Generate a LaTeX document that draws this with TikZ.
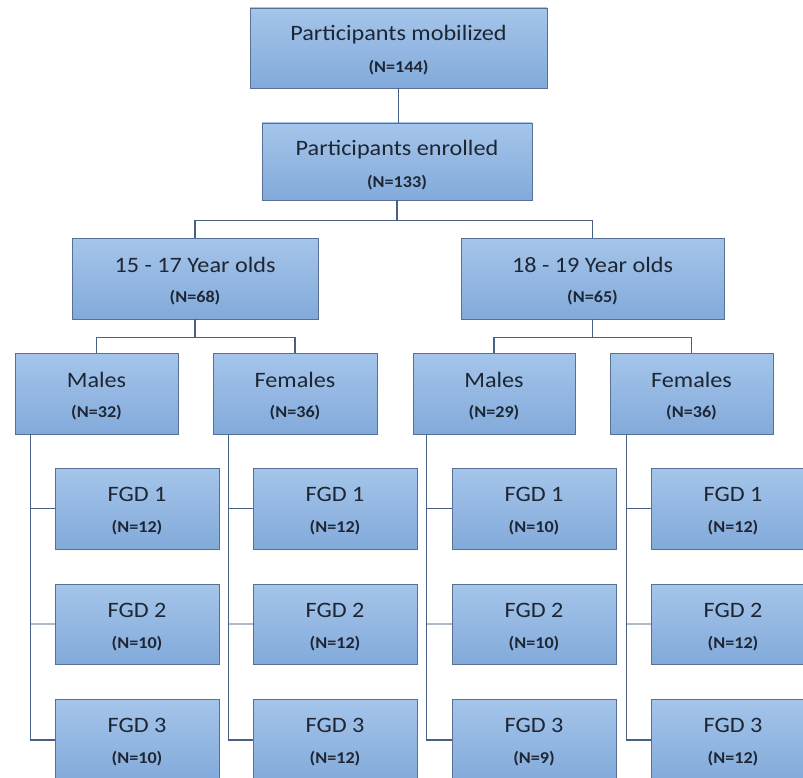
\documentclass[tikz,border=0pt]{standalone}
\usepackage{fontspec}
\setmainfont{Carlito}[FakeStretch=1.1]
\begin{document}
\definecolor{bxtop}{RGB}{165,197,234}
\definecolor{bxbot}{RGB}{130,170,218}
\definecolor{bxline}{RGB}{88,112,148}
\definecolor{cline}{RGB}{72,96,132}
\definecolor{cgrey}{RGB}{175,185,195}
\definecolor{txt}{RGB}{30,38,52}
\tikzset{
  bx/.style={draw=bxline, line width=0.9pt, top color=bxtop, bottom color=bxbot, inner sep=0pt},
  tt/.style={text=txt, font=\fontsize{22}{26}\selectfont, inner sep=0pt, anchor=center},
  nt/.style={text=txt, font=\fontsize{16.5}{19}\selectfont\bfseries, inner sep=0pt, anchor=center},
  conn/.style={draw=cline, line width=1.1pt},
  conng/.style={draw=cgrey, line width=1.1pt}
}
\newcommand\mkbox[7]{%
  \pgfmathsetmacro\bcx{(#2+#4)/2}\pgfmathsetmacro\bcy{(#3+#5)/2}%
  \pgfmathsetmacro\bw{#4-#2}\pgfmathsetmacro\bh{#5-#3}%
  \node[bx, minimum width=\bw pt, minimum height=\bh pt] (#1) at (\bcx,\bcy) {};
  \node[tt] (#1t) at ([yshift=-27pt]#1.north) {#6};
  \node[nt] (#1n) at ([yshift=-60pt]#1.north) {#7};
}
\begin{tikzpicture}[x=1pt,y=-1pt]
\useasboundingbox (0,0) rectangle (803,778);
\clip (0,0) rectangle (803,778);
\fill[white] (0,0) rectangle (803,778);
% boxes
\mkbox{mob}{250}{8}{547}{88}{Participants mobilized}{(N=144)}
\mkbox{enr}{262}{123}{532}{200}{Participants enrolled}{(N=133)}
\mkbox{aa}{72}{238}{318}{319}{15 - 17 Year olds}{(N=68)}
\mkbox{ab}{461}{238}{724}{319}{18 - 19 Year olds}{(N=65)}
\mkbox{ma}{15}{353}{178}{434}{Males}{(N=32)}
\mkbox{fa}{213}{353}{377}{434}{Females}{(N=36)}
\mkbox{mb}{413}{353}{575}{434}{Males}{(N=29)}
\mkbox{fb}{610}{353}{773}{434}{Females}{(N=36)}
% FGD columns
\mkbox{g11}{55}{468}{219}{549}{FGD 1}{(N=12)}
\mkbox{g12}{55}{584}{219}{664}{FGD 2}{(N=10)}
\mkbox{g13}{55}{699}{219}{781}{FGD 3}{(N=10)}
\mkbox{g21}{253}{468}{417}{549}{FGD 1}{(N=12)}
\mkbox{g22}{253}{584}{417}{664}{FGD 2}{(N=12)}
\mkbox{g23}{253}{699}{417}{781}{FGD 3}{(N=12)}
\mkbox{g31}{452}{468}{616}{549}{FGD 1}{(N=10)}
\mkbox{g32}{452}{584}{616}{664}{FGD 2}{(N=10)}
\mkbox{g33}{452}{699}{616}{781}{FGD 3}{(N=9)}
\mkbox{g41}{651}{468}{815}{549}{FGD 1}{(N=12)}
\mkbox{g42}{651}{584}{815}{664}{FGD 2}{(N=12)}
\mkbox{g43}{651}{699}{815}{781}{FGD 3}{(N=12)}
% connectors
\draw[conn] (mob.south) -- (mob.south |- enr.north);
\coordinate (bus1) at ([yshift=-20pt]enr.south);
\draw[conn] (enr.south) -- (bus1);
\draw[conn] (bus1) -| (aa.north);
\draw[conn] (bus1) -| (ab.north);
\coordinate (bus2) at ([yshift=-18pt]aa.south);
\draw[conn] (aa.south) -- (bus2);
\draw[conn] (bus2) -| (ma.north);
\draw[conn] (bus2) -| (fa.north);
\coordinate (bus3) at ([yshift=-18pt]ab.south);
\draw[conn] (ab.south) -- (bus3);
\draw[conn] (bus3) -| (mb.north);
\draw[conn] (bus3) -| (fb.north);
% vertical spines
\coordinate (sa) at ([xshift=16pt]ma.south west);
\coordinate (sb) at ([xshift=16pt]fa.south west);
\coordinate (sc) at ([xshift=14pt]mb.south west);
\coordinate (sd) at ([xshift=17pt]fb.south west);
\draw[conn] (sa) |- (g13.west);
\draw[conn] (sa |- g11.west) -- (g11.west);
\draw[conng] (sa |- g12.west) -- (g12.west);
\draw[conn] (sb) |- (g23.west);
\draw[conn] (sb |- g21.west) -- (g21.west);
\draw[conng] (sb |- g22.west) -- (g22.west);
\draw[conn] (sc) |- (g33.west);
\draw[conn] (sc |- g31.west) -- (g31.west);
\draw[conng] (sc |- g32.west) -- (g32.west);
\draw[conn] (sd) |- (g43.west);
\draw[conn] (sd |- g41.west) -- (g41.west);
\draw[conng] (sd |- g42.west) -- (g42.west);
\end{tikzpicture}
\end{document}
